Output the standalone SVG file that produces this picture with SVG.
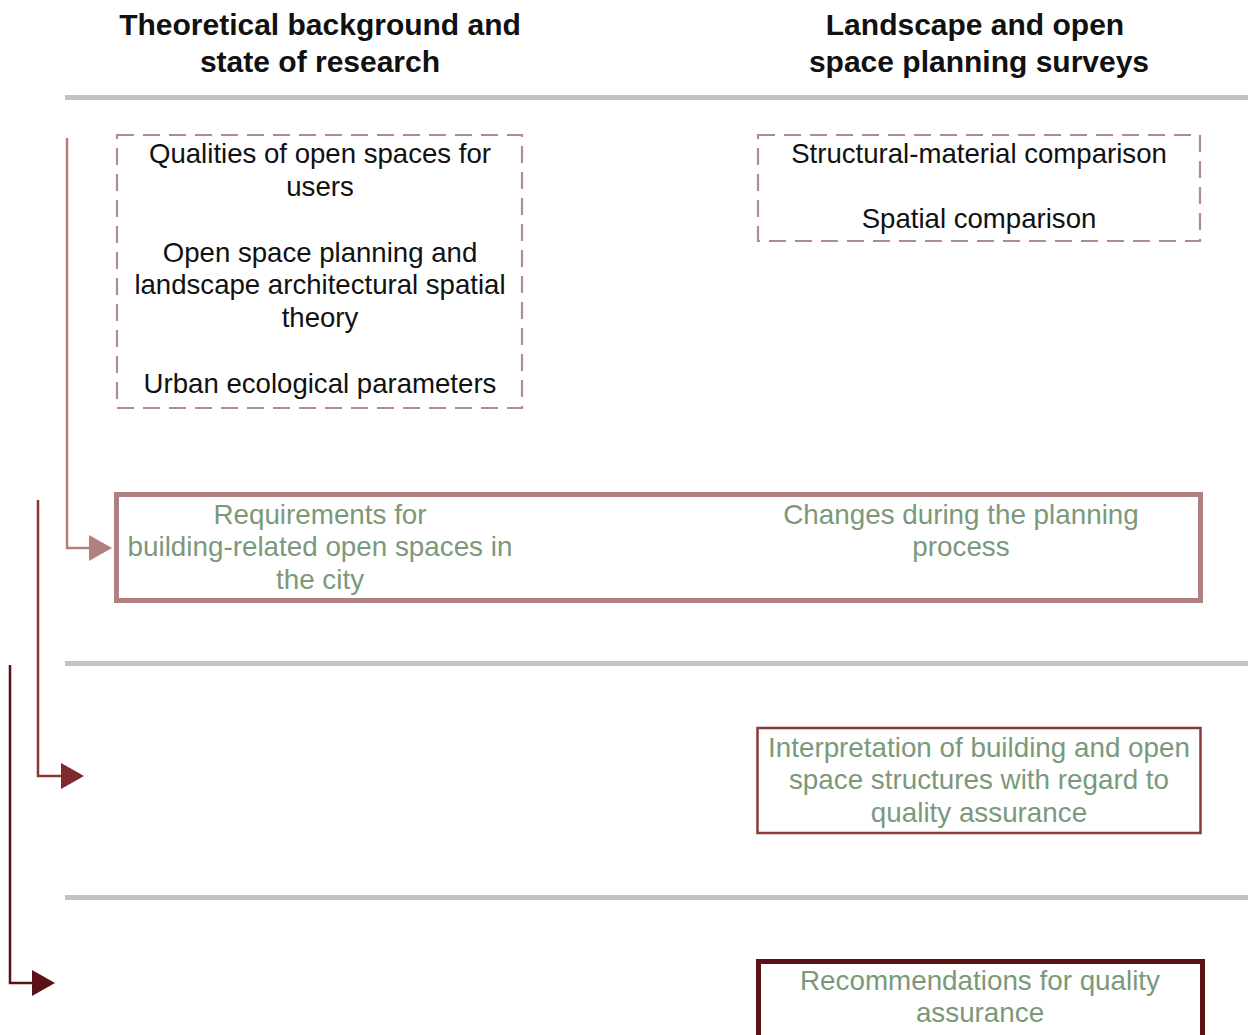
<svg xmlns="http://www.w3.org/2000/svg" width="1248" height="1035" viewBox="0 0 1248 1035">
<defs>
<style>
.title{font-family:"Liberation Sans",Arial,sans-serif;font-weight:bold;font-size:30px;fill:#111;text-anchor:middle}
.body{font-family:"Liberation Sans",Arial,sans-serif;font-size:27.6px;fill:#111;text-anchor:middle}
.green{font-family:"Liberation Sans",Arial,sans-serif;font-size:27.8px;fill:#7b997a;text-anchor:middle}
.sep{stroke:#c3c3c3;stroke-width:5;fill:none}
.dash{fill:none;stroke:#b08c8c;stroke-width:2.2;stroke-dasharray:17 9}
</style>
<marker id="a1" markerUnits="userSpaceOnUse" markerWidth="24" markerHeight="30" refX="0" refY="15" orient="auto"><path d="M0,2 L23,15 L0,28 Z" fill="#b07f80"/></marker>
<marker id="a2" markerUnits="userSpaceOnUse" markerWidth="24" markerHeight="30" refX="0" refY="15" orient="auto"><path d="M0,2 L23,15 L0,28 Z" fill="#7e2a2c"/></marker>
<marker id="a3" markerUnits="userSpaceOnUse" markerWidth="24" markerHeight="30" refX="0" refY="15" orient="auto"><path d="M0,2 L23,15 L0,28 Z" fill="#5a1216"/></marker>
</defs>
<rect width="1248" height="1035" fill="#fff"/>
<g id="headers">
<text class="title" x="320" y="35">Theoretical background and</text>
<text class="title" x="320" y="72">state of research</text>
<text class="title" x="975" y="35">Landscape and open</text>
<text class="title" x="979" y="72">space planning surveys</text>
</g>
<g id="separators">
<line class="sep" x1="65" y1="97.5" x2="1248" y2="97.5"/>
<line class="sep" x1="65" y1="663.5" x2="1248" y2="663.5"/>
<line class="sep" x1="65" y1="897.5" x2="1248" y2="897.5"/>
</g>
<g id="node-theory">
<rect class="dash" x="117" y="135" width="405" height="273"/>
<text class="body" x="320" y="163">Qualities of open spaces for</text>
<text class="body" x="320" y="196">users</text>
<text class="body" x="320" y="262">Open space planning and</text>
<text class="body" x="320" y="294">landscape architectural spatial</text>
<text class="body" x="320" y="327">theory</text>
<text class="body" x="320" y="393">Urban ecological parameters</text>
</g>
<g id="node-surveys">
<rect class="dash" x="758" y="135" width="442" height="106"/>
<text class="body" x="979" y="163">Structural-material comparison</text>
<text class="body" x="979" y="228">Spatial comparison</text>
</g>
<g id="node-requirements">
<rect x="116.5" y="494.5" width="1084" height="106" fill="none" stroke="#b07f80" stroke-width="5"/>
<text class="green" x="320" y="524">Requirements for</text>
<text class="green" x="320" y="556">building-related open spaces in</text>
<text class="green" x="320" y="589">the city</text>
<text class="green" x="961" y="524">Changes during the planning</text>
<text class="green" x="961" y="556">process</text>
</g>
<g id="node-interpretation">
<rect x="757.5" y="728" width="443" height="105" fill="none" stroke="#8b3a3b" stroke-width="2.5"/>
<text class="green" x="979" y="757">Interpretation of building and open</text>
<text class="green" x="979" y="789">space structures with regard to</text>
<text class="green" x="979" y="822">quality assurance</text>
</g>
<g id="node-recommendations">
<rect x="758.5" y="961.5" width="444" height="80" fill="none" stroke="#5a1216" stroke-width="5"/>
<text class="green" x="980" y="990">Recommendations for quality</text>
<text class="green" x="980" y="1022">assurance</text>
</g>
<g id="connectors" fill="none">
<path d="M67,138 V548 H89" stroke="#b07f80" stroke-width="2.5" marker-end="url(#a1)"/>
<path d="M38,500 V776 H61" stroke="#8b3535" stroke-width="2.5" marker-end="url(#a2)"/>
<path d="M10,665 V983 H32" stroke="#5a1216" stroke-width="2.5" marker-end="url(#a3)"/>
</g>
</svg>
